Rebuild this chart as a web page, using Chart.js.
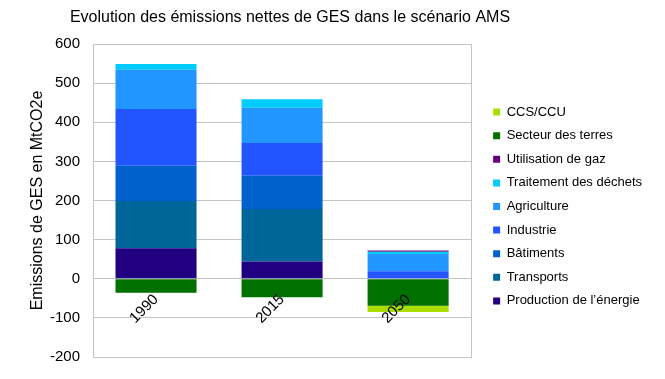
<!DOCTYPE html>
<html lang="fr">
<head>
<meta charset="UTF-8">
<title>Evolution des émissions nettes de GES</title>
<script src="https://cdn.jsdelivr.net/npm/chart.js@4.4.1/dist/chart.umd.min.js"></script>
<style>
    html, body { margin: 0; padding: 0; background: #ffffff; }
    #wrap { width: 665px; height: 379px; position: relative; }
</style>
</head>
<body>
<div id="wrap"><canvas id="emissionsChart"></canvas></div>
<script>
// ========================================
// Emissions nettes de GES - scénario AMS
// ========================================

const categories = ['1990', '2015', '2050'];

// MtCO2e per sector
const production = [78, 44, 0];
const transports = [121, 134, 0];
const batiments = [90, 85, 0];
const industrie = [145, 84, 19];
const agriculture = [100, 90, 44];
const dechets = [15, 22, 6];
const gaz = [0, 0, 3];
const terres = [-36, -47, -69];
const ccs = [0, 0, -16];

const yTicks = [-200, -100, 0, 100, 200, 300, 400, 500, 600];

const TITLE = 'Evolution des émissions nettes de GES dans le scénario AMS';
const FONT = '"Liberation Sans", Arial, sans-serif';
const GRID = '#c4c4c4';

document.addEventListener('DOMContentLoaded', function () {
    initChart();
});

function series(label, data, color) {
    return {
        label: label,
        data: data,
        backgroundColor: color,
        borderWidth: 0,
        barPercentage: 0.643,
        categoryPercentage: 1
    };
}

// Title sits a bit left of the canvas centre, like the original
const titlePlugin = {
    id: 'chartTitle',
    afterDraw(chart) {
        const c = chart.ctx;
        c.save();
        c.font = '16px ' + FONT;
        c.fillStyle = '#000000';
        c.textAlign = 'center';
        c.textBaseline = 'middle';
        c.fillText(TITLE, 290, 17.5);
        c.restore();
    }
};

function initChart() {
    const ctx = document.getElementById('emissionsChart');

    new Chart(ctx, {
        type: 'bar',
        data: {
            labels: categories,
            datasets: [
                series('Production de l’énergie', production, '#200080'),
                series('Transports', transports, '#006699'),
                series('Bâtiments', batiments, '#0060cc'),
                series('Industrie', industrie, '#2255ff'),
                series('Agriculture', agriculture, '#2296ff'),
                series('Traitement des déchets', dechets, '#00ccff'),
                series('Utilisation de gaz', gaz, '#660080'),
                series('Secteur des terres', terres, '#007000'),
                series('CCS/CCU', ccs, '#aade00')
            ]
        },
        plugins: [titlePlugin],
        options: {
            responsive: true,
            maintainAspectRatio: false,
            animation: false,
            layout: {
                padding: { left: 0, right: 13, top: 44, bottom: 15 }
            },
            plugins: {
                title: { display: false },
                legend: {
                    position: 'right',
                    align: 'center',
                    fullSize: false,
                    reverse: true,
                    maxWidth: 220,
                    // empty title only pushes the items down a little
                    title: {
                        display: true,
                        text: '',
                        font: { family: FONT, size: 10 },
                        padding: 0
                    },
                    labels: {
                        boxWidth: 7,
                        boxHeight: 7,
                        padding: 10.6,
                        color: '#000000',
                        font: { family: FONT, size: 13 }
                    }
                },
                tooltip: { enabled: false }
            },
            scales: {
                x: {
                    stacked: true,
                    position: { y: 0 },
                    grid: { display: false },
                    border: { display: true, color: GRID },
                    ticks: {
                        z: 1,
                        color: '#000000',
                        font: { family: FONT, size: 15 },
                        maxRotation: 45,
                        minRotation: 45,
                        autoSkip: false,
                        padding: 4
                    }
                },
                y: {
                    stacked: true,
                    min: -200,
                    max: 600,
                    afterBuildTicks: function (scale) {
                        scale.ticks = yTicks.map(v => ({ value: v }));
                    },
                    afterFit: function (scale) {
                        scale.width = 93;
                    },
                    grid: { color: GRID, drawTicks: false },
                    border: { display: true, color: GRID },
                    ticks: {
                        color: '#000000',
                        font: { family: FONT, size: 15 },
                        padding: 13
                    },
                    title: {
                        display: true,
                        text: 'Emissions de GES en MtCO2e',
                        color: '#000000',
                        font: { family: FONT, size: 16 },
                        padding: { top: 28, bottom: 0 }
                    }
                },
                // right frame of the plot + gap before the legend
                frame: {
                    position: 'right',
                    display: true,
                    grid: { display: false },
                    border: { display: true, color: GRID },
                    ticks: { display: false },
                    afterFit: function (scale) {
                        scale.width = 11.4;
                    }
                }
            }
        }
    });
}
</script>
</body>
</html>
